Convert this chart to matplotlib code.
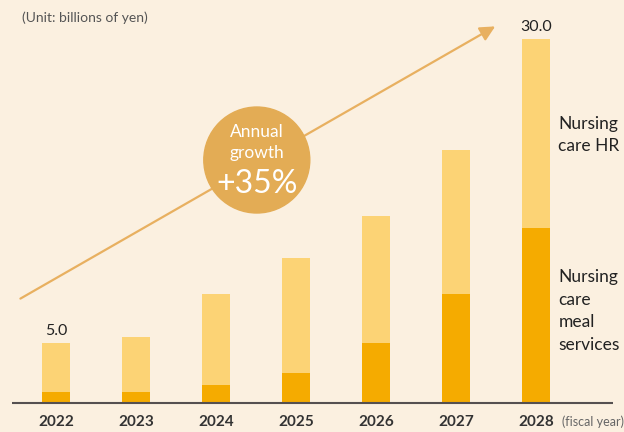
import matplotlib.pyplot as plt
from matplotlib.patches import Ellipse

years = ['2022', '2023', '2024', '2025', '2026', '2027', '2028']
totals = [5.0, 5.5, 9.0, 12.0, 15.4, 20.9, 30.0]
meal = [0.9, 0.9, 1.5, 2.5, 5.0, 9.0, 14.4]
hr = [t - m for t, m in zip(totals, meal)]

bg = '#FBF0E0'
light = '#FCD375'
dark = '#F5AB00'
plt.rcParams['font.family'] = ['Lato', 'DejaVu Sans']

fig = plt.figure(figsize=(6.24, 4.32), dpi=100, facecolor=bg)
ax = fig.add_axes([0, 0, 1, 1])
ax.set_facecolor(bg)
ax.set_xlim(-0.7, 7.1)
ax.set_ylim(-2.364, 33.22)
ax.axis('off')

x = list(range(len(years)))

# growth arrow behind everything
ax.annotate('', xy=(5.52, 31.16), xytext=(-0.475, 8.51),
            arrowprops=dict(arrowstyle='-|>,head_length=0.9,head_width=0.45',
                            color='#E8B060', lw=1.6), zorder=1)

ax.bar(x, meal, width=0.35, color=dark, zorder=2)
ax.bar(x, hr, bottom=meal, width=0.35, color=light, zorder=2)

# baseline
ax.plot([-0.55, 6.96], [0, 0], color='#555050', lw=1.5, zorder=3, solid_capstyle='butt')

for i, y in enumerate(years):
    ax.text(i, -1.55, y, ha='center', va='center', fontsize=11, fontweight='bold', color='#333333')
ax.text(6.32, -1.55, '(fiscal year)', ha='left', va='center', fontsize=9, color='#666666')

ax.text(0, totals[0] + 0.4, '5.0', ha='center', va='bottom', fontsize=11.5, color='#222222')
ax.text(6, totals[6] + 0.4, '30.0', ha='center', va='bottom', fontsize=11.5, color='#222222')

ax.text(6.28, 22.1, 'Nursing\ncare HR', ha='left', va='center', fontsize=12.5,
        color='#222222', linespacing=1.5)
ax.text(6.28, 7.6, 'Nursing\ncare\nmeal\nservices', ha='left', va='center', fontsize=12.5,
        color='#222222', linespacing=1.5)

ax.text(-0.43, 31.8, '(Unit: billions of yen)', ha='left', va='center', fontsize=10, color='#555555')

# growth bubble
ax.add_patch(Ellipse((2.51, 20.04), 1.325, 8.73, color='#E3AC55', zorder=4))
ax.text(2.51, 21.5, 'Annual\ngrowth', ha='center', va='center', fontsize=12.5,
        color='white', linespacing=1.35, zorder=5)
ax.text(2.51, 18.1, '+35%', ha='center', va='center', fontsize=23,
        color='white', zorder=5)

fig.savefig('out.png', dpi=100, facecolor=bg)
